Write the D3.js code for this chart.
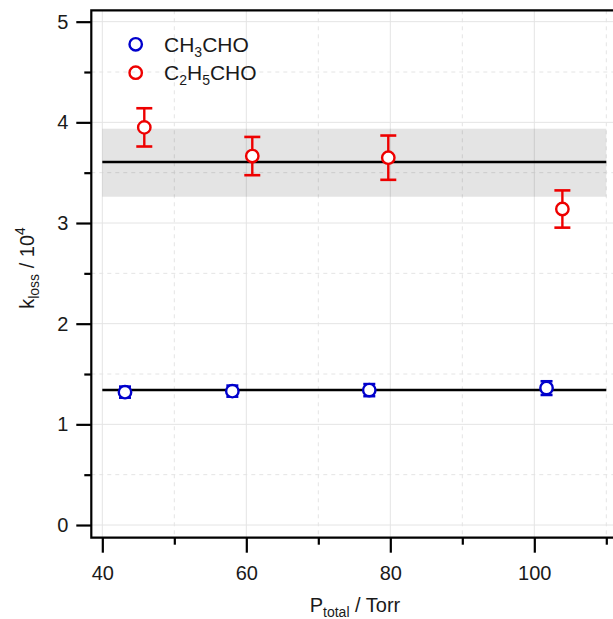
<!DOCTYPE html>
<html>
<head>
<meta charset="utf-8">
<script src="https://cdn.jsdelivr.net/npm/d3@7"></script>
<style>
  body { margin: 0; background: #fff; }
  svg { display: block; font-family: "Liberation Sans", Arial, sans-serif; }
</style>
</head>
<body>
<main></main>
<script>
// pressures (Torr), k_loss / 1e4 and error bars
const ch3choP = [43.15, 58.06, 77.08, 101.7]
const ch3choK = [1.32, 1.33, 1.34, 1.36]
const ch3choErr = [0.055, 0.055, 0.06, 0.068]

const c2h5choP = [45.83, 60.83, 79.72, 103.9]
const c2h5choK = [3.95, 3.665, 3.649, 3.139]
const c2h5choErr = [0.19, 0.19, 0.22, 0.185]

// mean lines and band of the propanal mean
const ch3choMean = 1.341
const c2h5choMean = 3.606
const c2h5choBand = [3.261, 3.937]
const meanSpan = [40, 110]

const xMajor = [40, 60, 80, 100]
const xMinor = [50, 70, 90, 110]
const yMajor = [0, 1, 2, 3, 4, 5]
const yMinor = [0.5, 1.5, 2.5, 3.5, 4.5]

const W = 613, H = 619
const pLeft = 91.3, pTop = 10.3, pBottom = 537.7, pRight = 625

const x = d3.scaleLinear().domain([38.47, 40 + (pRight - 102.3) / 7.2]).range([pLeft, pRight])
const y = d3.scaleLinear().domain([-0.126, 5.113]).range([pBottom, pTop])

const svg = d3.select("main").append("svg").attr("width", W).attr("height", H)

// grid
const grid = svg.append("g")
grid.selectAll(".gx").data(xMajor.concat(xMinor)).enter().append("line")
  .attr("x1", d => x(d)).attr("x2", d => x(d)).attr("y1", pTop).attr("y2", pBottom)
  .attr("stroke", "#e4e4e4").attr("stroke-width", 1)
  .attr("stroke-dasharray", d => xMinor.includes(d) ? "4,4" : null)
grid.selectAll(".gy").data(yMajor.concat(yMinor)).enter().append("line")
  .attr("y1", d => y(d)).attr("y2", d => y(d)).attr("x1", pLeft).attr("x2", pRight)
  .attr("stroke", "#e4e4e4").attr("stroke-width", 1)
  .attr("stroke-dasharray", d => yMinor.includes(d) ? "4,4" : null)

// band
svg.append("rect")
  .attr("x", x(meanSpan[0])).attr("width", x(meanSpan[1]) - x(meanSpan[0]))
  .attr("y", y(c2h5choBand[1])).attr("height", y(c2h5choBand[0]) - y(c2h5choBand[1]))
  .attr("fill", "rgba(0,0,0,0.105)")

// mean lines
;[ch3choMean, c2h5choMean].forEach(m => {
  svg.append("line")
    .attr("x1", x(meanSpan[0])).attr("x2", x(meanSpan[1]))
    .attr("y1", y(m)).attr("y2", y(m))
    .attr("stroke", "#000").attr("stroke-width", 2.6)
})

// axes
const yAxis = d3.axisLeft(y).tickValues(yMajor).tickSize(15).tickPadding(8).tickFormat(d3.format("d"))
const gy = svg.append("g").attr("transform", `translate(${pLeft},0)`).call(yAxis)
gy.append("g").call(d3.axisLeft(y).tickValues(yMinor).tickSize(7).tickFormat(""))
const xAxis = d3.axisBottom(x).tickValues(xMajor).tickSize(15).tickPadding(13).tickFormat(d3.format("d"))
const gx = svg.append("g").attr("transform", `translate(0,${pBottom})`).call(xAxis)
gx.append("g").call(d3.axisBottom(x).tickValues(xMinor).tickSize(7).tickFormat(""))

svg.selectAll(".domain").remove()
svg.selectAll(".tick line").attr("stroke", "#000").attr("stroke-width", 2.2)
svg.selectAll(".tick text").attr("font-size", 20).attr("fill", "#1a1a1a")
  .attr("font-family", "Liberation Sans, Arial, sans-serif")

// frame: left, bottom, top
svg.append("path")
  .attr("d", `M${pRight},${pTop}H${pLeft}V${pBottom}H${pRight}`)
  .attr("fill", "none").attr("stroke", "#000").attr("stroke-width", 2.2)

// series
const series = [
  { p: ch3choP, k: ch3choK, e: ch3choErr, color: "#0000cc", cap: 12 },
  { p: c2h5choP, k: c2h5choK, e: c2h5choErr, color: "#ee0000", cap: 16 },
]
series.forEach(s => {
  const g = svg.append("g")
  const pts = s.p.map((p, i) => ({ p, k: s.k[i], e: s.e[i] }))
  const pt = g.selectAll("g").data(pts).enter().append("g")
  pt.append("line")
    .attr("x1", d => x(d.p)).attr("x2", d => x(d.p))
    .attr("y1", d => y(d.k + d.e)).attr("y2", d => y(d.k - d.e))
    .attr("stroke", s.color).attr("stroke-width", 2.4)
  ;[1, -1].forEach(sg => {
    pt.append("line")
      .attr("x1", d => x(d.p) - s.cap / 2).attr("x2", d => x(d.p) + s.cap / 2)
      .attr("y1", d => y(d.k + sg * d.e)).attr("y2", d => y(d.k + sg * d.e))
      .attr("stroke", s.color).attr("stroke-width", 2.6)
  })
  pt.append("circle")
    .attr("cx", d => x(d.p)).attr("cy", d => y(d.k)).attr("r", 6.2)
    .attr("fill", "#fff").attr("stroke", s.color).attr("stroke-width", 2.4)
})

// legend
const legend = svg.append("g")
const legendItems = [
  { color: "#0000cc", parts: [["CH", 0], ["3", 1], ["CHO", 0]] },
  { color: "#ee0000", parts: [["C", 0], ["2", 1], ["H", 0], ["5", 1], ["CHO", 0]] },
]
legendItems.forEach((it, i) => {
  const cy = 44.3 + i * 28.4
  legend.append("circle").attr("cx", 135.7).attr("cy", cy).attr("r", 6.2)
    .attr("fill", "none").attr("stroke", it.color).attr("stroke-width", 2.4)
  const t = legend.append("text").attr("x", 164).attr("y", cy + 7.5)
    .attr("font-size", 21).attr("fill", "#1a1a1a")
  it.parts.forEach(([s, sub], j) => {
    const prevSub = j > 0 && it.parts[j - 1][1]
    t.append("tspan").text(s)
      .attr("font-size", sub ? 14 : 21)
      .attr("dy", sub && !prevSub ? 5 : (!sub && prevSub ? -5 : 0))
  })
})

// axis titles
const xt = svg.append("text").attr("x", 355).attr("y", 612).attr("text-anchor", "middle")
  .attr("font-size", 20).attr("fill", "#1a1a1a")
xt.append("tspan").text("P")
xt.append("tspan").text("total").attr("font-size", 14).attr("dy", 5)
xt.append("tspan").text(" / Torr").attr("dy", -5)

const yt = svg.append("text").attr("transform", "translate(34,268) rotate(-90)")
  .attr("text-anchor", "middle").attr("font-size", 20).attr("fill", "#1a1a1a")
yt.append("tspan").text("k")
yt.append("tspan").text("loss").attr("font-size", 14).attr("dy", 5)
yt.append("tspan").text(" / 10").attr("dy", -5)
yt.append("tspan").text("4").attr("font-size", 14).attr("dy", -9)
</script>
</body>
</html>
